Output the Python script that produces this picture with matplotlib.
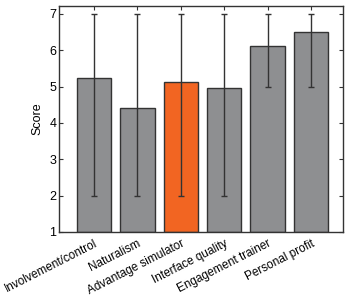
import matplotlib.pyplot as plt

categories = ["Involvement/control", "Naturalism", "Advantage simulator",
              "Interface quality", "Engagement trainer", "Personal profit"]
scores = [5.25, 4.42, 5.14, 4.97, 6.13, 6.51]
err_low = [2, 2, 2, 2, 5, 5]
err_high = [7, 7, 7, 7, 7, 7]
colors = ["#8e8f91", "#8e8f91", "#f26522", "#8e8f91", "#8e8f91", "#8e8f91"]

plt.rcParams['font.family'] = ['Liberation Sans', 'DejaVu Sans']

fig = plt.figure(figsize=(3.49, 3.0), dpi=100)
ax = fig.add_axes([0.169, 0.227, 0.814, 0.753])

x = list(range(1, len(categories) + 1))
ax.bar(x, [s - 1 for s in scores], bottom=1, width=0.79, color=colors,
       edgecolor="#333333", linewidth=1.0, zorder=2)

lower = [s - lo for s, lo in zip(scores, err_low)]
upper = [hi - s for s, hi in zip(scores, err_high)]
ax.errorbar(x, scores, yerr=[lower, upper], fmt="none", ecolor="#333333",
            elinewidth=1.0, capsize=2, capthick=1.0, zorder=3)

ax.set_xlim(0.19, 6.74)
ax.set_ylim(1, 7.22)
ax.set_yticks([1, 2, 3, 4, 5, 6, 7])
ax.set_xticks(x)
ax.set_xticklabels(categories, rotation=27, ha="right", rotation_mode="anchor",
                   fontsize=8.5)
ax.tick_params(axis="both", direction="in", top=True, right=True,
               length=3, width=0.8, color="#333333")
ax.tick_params(axis="x", pad=4)
ax.tick_params(axis="y", labelsize=9, pad=2)
ax.set_ylabel("Score", fontsize=9, labelpad=4)
for sp in ax.spines.values():
    sp.set_linewidth(1.0)
    sp.set_color("#333333")

fig.savefig("out.png", dpi=100)
